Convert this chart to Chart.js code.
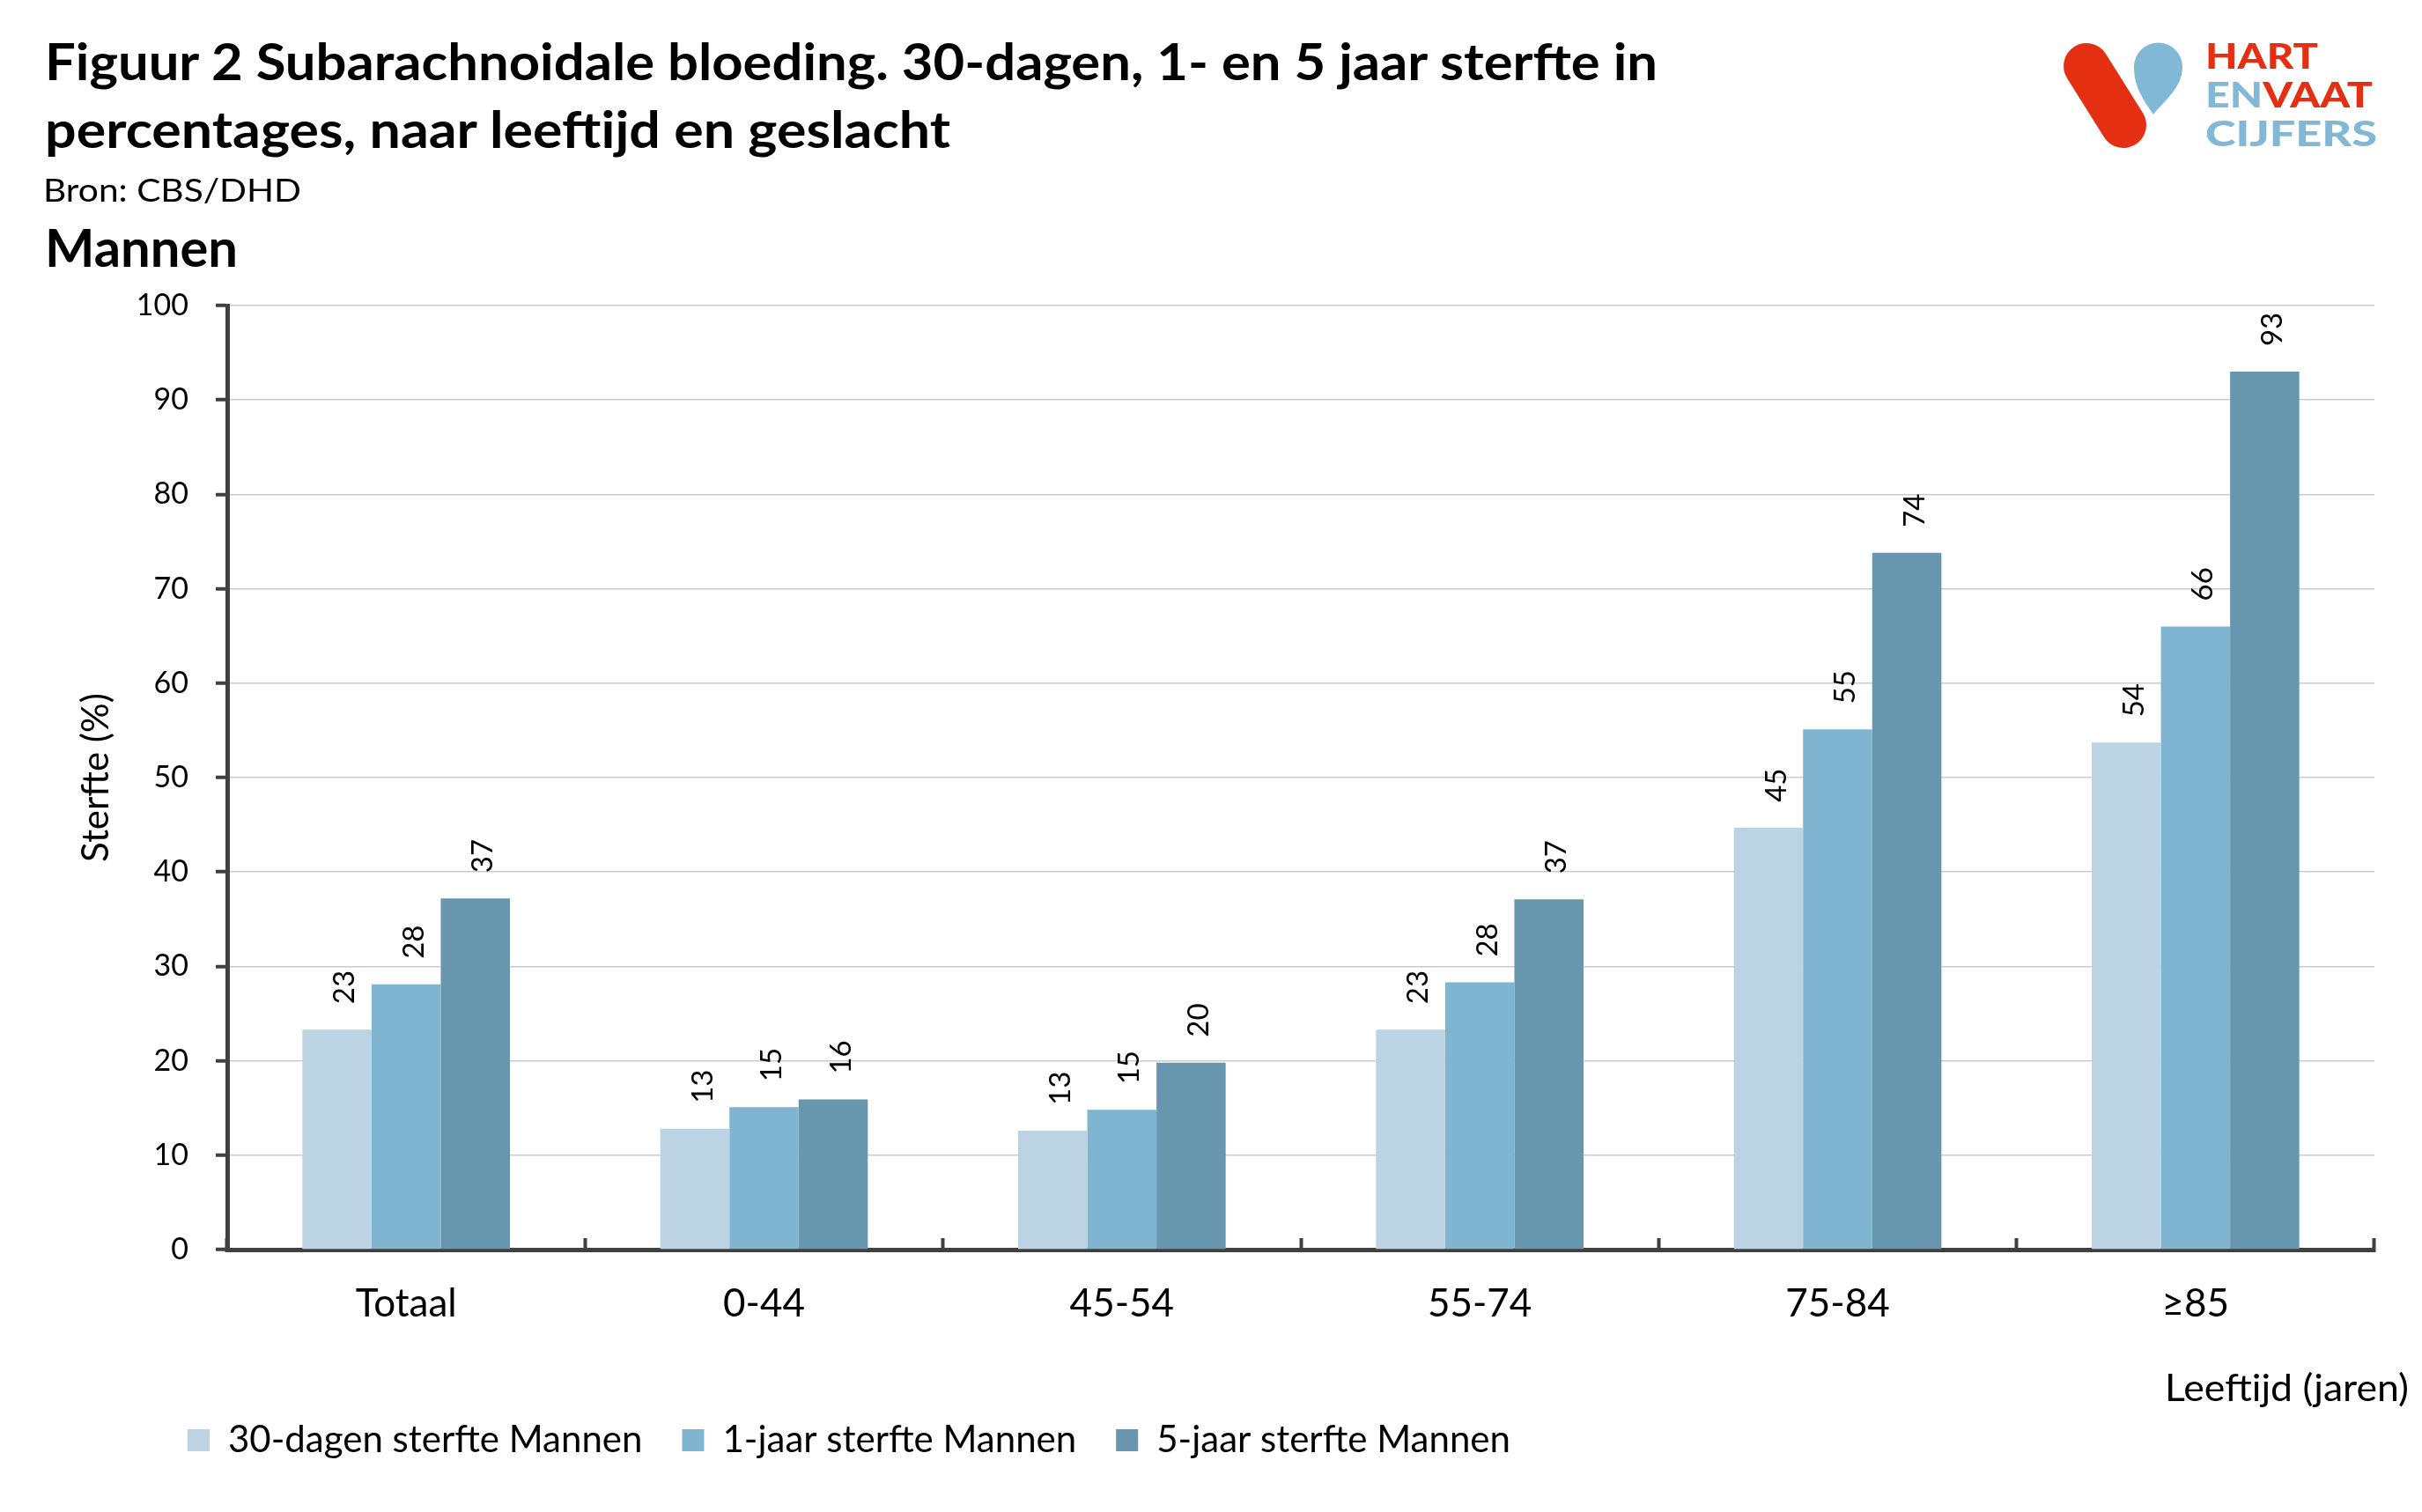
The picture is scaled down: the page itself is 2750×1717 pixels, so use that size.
<!DOCTYPE html>
<html>
<head>
<meta charset="utf-8">
<script src="https://cdn.jsdelivr.net/npm/chart.js@4.4.1/dist/chart.umd.min.js"></script>
<style>
  html, body { margin: 0; padding: 0; background: #fff; }
  #wrap { position: relative; width: 2750px; height: 1717px; overflow: hidden; }
  #c { position: absolute; left: 0; top: 0; }
  #overlay { position: absolute; left: 0; top: 0; }
</style>
</head>
<body>
<div id="wrap">
  <canvas id="c" width="2750" height="1717"></canvas>
  <svg id="overlay" width="2750" height="1717" xmlns="http://www.w3.org/2000/svg">
    <g font-family="Lato" fill="#000">
      <text x="51" y="91" font-weight="700" font-size="57" textLength="1831" lengthAdjust="spacingAndGlyphs">Figuur 2 Subarachnoidale bloeding. 30-dagen, 1- en 5 jaar sterfte in</text>
      <text x="51" y="168" font-weight="700" font-size="57" textLength="1028" lengthAdjust="spacingAndGlyphs">percentages, naar leeftijd en geslacht</text>
      <text x="49" y="229" font-size="36" textLength="293" lengthAdjust="spacingAndGlyphs">Bron: CBS/DHD</text>
      <text x="51" y="303" font-weight="700" font-size="60" textLength="219" lengthAdjust="spacingAndGlyphs">Mannen</text>
      <text x="2458" y="1591" font-size="42" textLength="277" lengthAdjust="spacingAndGlyphs">Leeftijd (jaren)</text>
    </g>
    <g id="logo">
      <line x1="2369" y1="75" x2="2411" y2="142" stroke="#E52F12" stroke-width="52" stroke-linecap="round"/>
      <path d="M2445,130 C2434,114 2423,99 2423,76 A27.5,27.5 0 1 1 2478,76 C2478,99 2458,114 2445,130 Z" fill="#80B8D6"/>
      <g font-family="Lato" font-weight="900" font-size="40">
        <text x="2504" y="78" fill="#E52F12" textLength="128" lengthAdjust="spacingAndGlyphs">HART</text>
        <text x="2504" y="122" textLength="190" lengthAdjust="spacingAndGlyphs"><tspan fill="#80B8D6">EN</tspan><tspan fill="#E52F12">VAAT</tspan></text>
        <text x="2504" y="166" fill="#80B8D6" textLength="195" lengthAdjust="spacingAndGlyphs">CIJFERS</text>
      </g>
    </g>
  </svg>
</div>
<script>
// ---- data ----
const categories = ['Totaal', '0-44', '45-54', '55-74', '75-84', '\u226585'];
const seriesNames = ['30-dagen sterfte Mannen', '1-jaar sterfte Mannen', '5-jaar sterfte Mannen'];
const sterfte30dagen = [23.3, 12.8, 12.6, 23.3, 44.7, 53.7];
const sterfte1jaar   = [28.1, 15.1, 14.8, 28.3, 55.1, 66.0];
const sterfte5jaar   = [37.2, 15.9, 19.8, 37.1, 73.8, 93.0];
const yTickValues = [0, 10, 20, 30, 40, 50, 60, 70, 80, 90, 100];
const seriesColors = ['#BBD3E2', '#7FB5D1', '#6896AE'];

const FONT = 'Lato';

const valueLabels = {
  id: 'valueLabels',
  afterDatasetsDraw(chart) {
    const ctx = chart.ctx;
    chart.data.datasets.forEach((ds, di) => {
      const meta = chart.getDatasetMeta(di);
      meta.data.forEach((bar, i) => {
        ctx.save();
        ctx.translate(bar.x + 9, bar.y - 29);
        ctx.rotate(-Math.PI / 2);
        ctx.font = '33px ' + FONT;
        ctx.fillStyle = '#000';
        ctx.textAlign = 'left';
        ctx.textBaseline = 'middle';
        ctx.fillText(String(Math.round(ds.data[i])), 0, 0);
        ctx.restore();
      });
    });
  }
};

// place the legend row where the reference has it (first swatch at x = 213)
const legendPlacement = {
  id: 'legendPlacement',
  afterLayout(chart) {
    const lg = chart.legend;
    if (!lg) return;
    const dx = 168 - lg.left;
    lg.left += dx;
    lg.right += dx;
  }
};

function build() {
  const ctx = document.getElementById('c').getContext('2d');
  new Chart(ctx, {
    type: 'bar',
    data: {
      labels: categories,
      datasets: [
        { label: seriesNames[0], data: sterfte30dagen, backgroundColor: seriesColors[0] },
        { label: seriesNames[1], data: sterfte1jaar, backgroundColor: seriesColors[1] },
        { label: seriesNames[2], data: sterfte5jaar, backgroundColor: seriesColors[2] }
      ]
    },
    options: {
      responsive: false,
      animation: false,
      devicePixelRatio: 1,
      layout: { padding: { left: 130, right: 54, top: 347, bottom: 50.5 } },
      datasets: { bar: { categoryPercentage: 0.58, barPercentage: 1.0 } },
      scales: {
        x: {
          grid: { display: true, drawOnChartArea: false, drawTicks: true, offset: true,
                  tickLength: -13, tickColor: '#404040', tickWidth: 4 },
          border: { display: true, color: '#404040', width: 5 },
          ticks: { font: { family: FONT, size: 44 }, color: '#000', padding: 48, maxRotation: 0, autoSkip: false },
          afterFit(s) { s.height = 150.5; }
        },
        y: {
          min: 0, max: 100,
          afterBuildTicks(s) { s.ticks = yTickValues.map(v => ({ value: v })); },
          ticks: { font: { family: FONT, size: 34 }, color: '#000', padding: 31 },
          grid: { color: '#cccccc', lineWidth: 1.5, tickLength: 13, tickColor: '#404040', tickWidth: 4 },
          border: { color: '#404040', width: 5 },
          title: { display: true, text: 'Sterfte (%)', font: { family: FONT, size: 42 }, color: '#000',
                   padding: { top: -46.2, bottom: 0 } },
          afterFit(s) { s.width = 128; }
        }
      },
      plugins: {
        legend: {
          position: 'bottom', align: 'start',
          labels: { boxWidth: 25, boxHeight: 25, padding: 45, font: { family: FONT, size: 42 }, color: '#000' }
        },
        tooltip: { enabled: false }
      }
    },
    plugins: [valueLabels, legendPlacement]
  });
}

if (document.fonts && document.fonts.load) {
  Promise.all([
    document.fonts.load('42px Lato'),
    document.fonts.load('bold 42px Lato')
  ]).then(build, build);
} else {
  build();
}
</script>
</body>
</html>
